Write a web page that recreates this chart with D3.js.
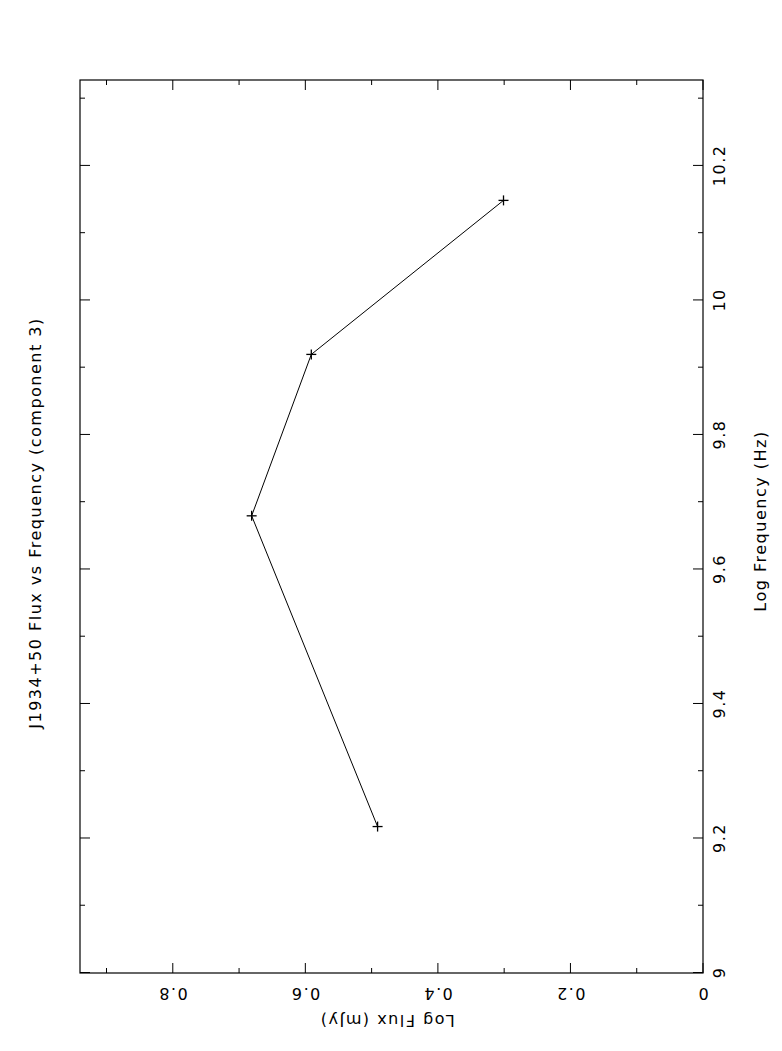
<!DOCTYPE html>
<html><head><meta charset="utf-8">
<script src="https://cdn.jsdelivr.net/npm/d3@7"></script>
<style>body{margin:0;background:#fff}svg{display:block}text{font-family:"DejaVu Sans",sans-serif;fill:#000}</style>
</head><body>
<script>
const title = "J1934+50 Flux vs Frequency (component 3)";
const xLabel = "Log Frequency (Hz)";
const yLabel = "Log Flux (mJy)";
const logFreq = [9.217, 9.679, 9.919, 10.148];
const logFlux = [0.491, 0.681, 0.591, 0.301];
const freqTicks = [9, 9.2, 9.4, 9.6, 9.8, 10, 10.2];
const fluxTicks = [0, 0.2, 0.4, 0.6, 0.8];

const W = 782, H = 1051;
const L = 80, R = 703, T = 80, B = 973;
const svg = d3.select("body").append("svg").attr("width", W).attr("height", H);
svg.append("rect").attr("width", W).attr("height", H).attr("fill", "#fff");

const fy = d3.scaleLinear().domain([9, 10.327]).range([972.5, T]);
const fx = d3.scaleLinear().domain([0, 0.940]).range([R, L]);

const g = svg.append("g");
g.append("rect").attr("x", L).attr("y", T).attr("width", R - L).attr("height", B - T)
  .attr("fill", "none").attr("stroke", "#000").attr("stroke-width", 1.2);

const fmt = v => (Math.round(v * 10) / 10).toString();
const isMajor = (v) => Math.abs(Math.round(v * 5) - v * 5) < 1e-6;
d3.range(90, 104).map(i => i / 10).forEach(v => {
  if (v > 10.327) return;
  const y = fy(v), len = isMajor(v) ? 10 : 5;
  g.append("line").attr("x1", L).attr("x2", L + len).attr("y1", y).attr("y2", y).attr("stroke", "#000");
  g.append("line").attr("x1", R).attr("x2", R - len).attr("y1", y).attr("y2", y).attr("stroke", "#000");
});
d3.range(0, 10).map(i => i / 10).forEach(v => {
  if (v > 0.940) return;
  const x = fx(v), len = isMajor(v) ? 10 : 5;
  g.append("line").attr("x1", x).attr("x2", x).attr("y1", B).attr("y2", B - len).attr("stroke", "#000");
  g.append("line").attr("x1", x).attr("x2", x).attr("y1", T).attr("y2", T + len).attr("stroke", "#000");
});

const txt = (sel) => sel.attr("text-anchor", "middle").attr("dominant-baseline", "central")
  .attr("font-size", 16).attr("letter-spacing", 1.5);
freqTicks.forEach(v => {
  g.append("text").attr("transform", `translate(719,${fy(v)}) rotate(-90)`).call(txt).text(fmt(v));
});
fluxTicks.forEach(v => {
  g.append("text").attr("transform", `translate(${fx(v)},993) rotate(180)`).call(txt).text(fmt(v));
});
svg.append("text").attr("transform", `translate(760,521) rotate(-90)`).call(txt).text(xLabel);
svg.append("text").attr("transform", `translate(387,1020) rotate(180)`).call(txt).text(yLabel);
svg.append("text").attr("transform", `translate(35,523) rotate(-90)`).call(txt).text(title);

const pts = logFreq.map((f, i) => [fx(logFlux[i]), fy(f)]);
g.append("path").attr("d", d3.line()(pts)).attr("fill", "none").attr("stroke", "#000").attr("stroke-width", 1);
pts.forEach(([x, y]) => {
  g.append("line").attr("x1", x - 5).attr("x2", x + 5).attr("y1", y).attr("y2", y).attr("stroke", "#000").attr("stroke-width", 1.3);
  g.append("line").attr("x1", x).attr("x2", x).attr("y1", y - 5).attr("y2", y + 5).attr("stroke", "#000").attr("stroke-width", 1.3);
});
</script>
</body></html>
